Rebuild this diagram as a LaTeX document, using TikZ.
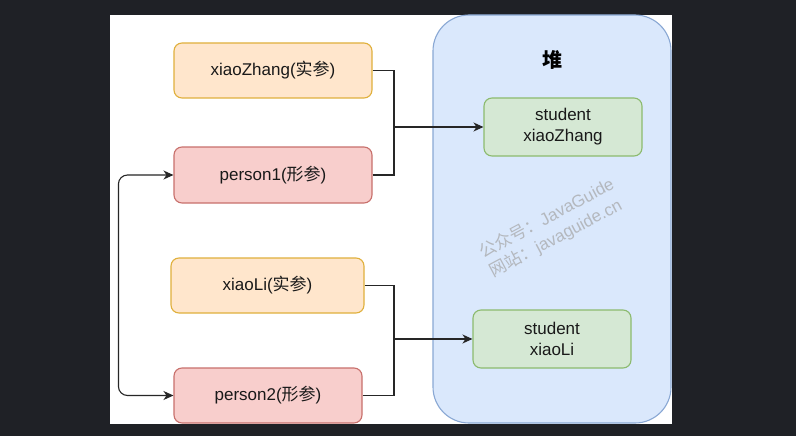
\documentclass[tikz,border=0pt]{standalone}
\usepackage{fontspec}
\setmainfont{Liberation Sans}
\newfontfamily\cjk{Noto Sans CJK SC}
\usetikzlibrary{arrows.meta}
\definecolor{bgdark}{HTML}{1F2126}
\definecolor{orfill}{HTML}{FFE6CC}
\definecolor{ordraw}{HTML}{E0B03C}
\definecolor{rdfill}{HTML}{F8CECC}
\definecolor{rddraw}{HTML}{C8706C}
\definecolor{grfill}{HTML}{D5E8D4}
\definecolor{grdraw}{HTML}{8CBA6E}
\definecolor{blfill}{HTML}{DAE8FC}
\definecolor{bldraw}{HTML}{8AA8D4}
\definecolor{wmark}{HTML}{B4B8BE}
\begin{document}
\begin{tikzpicture}[x=1pt,y=-1pt,
  box/.style={rectangle, rounded corners=8pt, line width=1.1pt, inner sep=0pt,
    font=\fontsize{17}{21}\selectfont, align=center, text=black!90},
  arg/.style={box, fill=orfill, draw=ordraw},
  par/.style={box, fill=rdfill, draw=rddraw},
  obj/.style={box, fill=grfill, draw=grdraw},
  conn/.style={line width=1.1pt, black!85},
  tip/.style={-{Stealth[length=10pt,width=9pt,inset=3pt]}}
]
\useasboundingbox (0,0) rectangle (796,436);
\fill[bgdark] (0,0) rectangle (796,436);
\fill[white] (110,15) rectangle (672,424);
% heap container
\draw[fill=blfill, draw=bldraw, line width=1.1pt, rounded corners=36pt] (433,15) rectangle (671,423);
\node[font=\cjk\bfseries\fontsize{20}{24}\selectfont] (heap) at (552,60) {堆};
% watermark
\node[rotate=28, align=left, text=wmark, font=\fontsize{17}{22}\selectfont] (wm) at (552,228)
  {{\cjk 公众号：}JavaGuide\\{\cjk 网站：}javaguide.cn};
% boxes
\node[arg, minimum width=198pt, minimum height=55pt] (xz) at (273,70.5) {xiaoZhang({\cjk 实参})};
\node[par, minimum width=198pt, minimum height=56pt] (p1) at (273,175) {person1({\cjk 形参})};
\node[arg, minimum width=193pt, minimum height=55pt] (xl) at (267.5,285.5) {xiaoLi({\cjk 实参})};
\node[par, minimum width=188pt, minimum height=55pt] (p2) at (268,395.5) {person2({\cjk 形参})};
\node[obj, minimum width=158pt, minimum height=58pt] (sz) at (563,127) {student\\xiaoZhang};
\node[obj, minimum width=158pt, minimum height=58pt] (sl) at (552,339) {student\\xiaoLi};
% junctions
\coordinate (j1) at (394,127);
\coordinate (j2) at (394,339);
% connectors
\draw[conn] (xz.east) -| (j1);
\draw[conn] (p1.east) -| (j1);
\draw[conn, tip] (j1) -- (sz.west);
\draw[conn] (xl.east) -| (j2);
\draw[conn] (p2.east) -| (j2);
\draw[conn, tip] (j2) -- (sl.west);
\draw[conn, {Stealth[length=10pt,width=9pt,inset=3pt]}-{Stealth[length=10pt,width=9pt,inset=3pt]}, rounded corners=9pt]
  (p1.west) -- ([xshift=-55pt]p1.west) |- (p2.west);
\end{tikzpicture}
\end{document}
